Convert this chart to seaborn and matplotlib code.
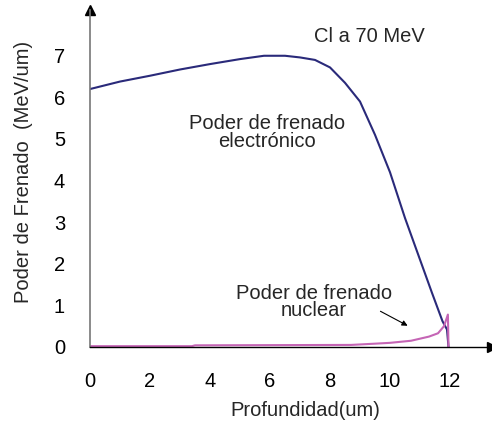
import matplotlib
matplotlib.use("Agg")
import matplotlib.pyplot as plt
import seaborn as sns
import numpy as np

# Data
elec_x = [0, 1, 2, 3, 4, 5, 5.8, 6.5, 7.0, 7.5, 8.0, 8.5, 9.0, 9.5, 10.0, 10.5, 11.0, 11.4, 11.75, 11.9, 11.95]
elec_y = [6.2, 6.38, 6.52, 6.67, 6.8, 6.92, 7.0, 7.0, 6.96, 6.9, 6.72, 6.35, 5.9, 5.1, 4.2, 3.1, 2.1, 1.3, 0.62, 0.42, 0.0]

nuc_x = [0, 3.4, 3.5, 8.7, 9.5, 10.0, 10.7, 11.3, 11.6, 11.8, 11.93, 11.95]
nuc_y = [0.02, 0.02, 0.04, 0.05, 0.08, 0.10, 0.15, 0.25, 0.33, 0.5, 0.78, 0.0]

x_ticks = [0, 2, 4, 6, 8, 10, 12]
y_ticks = [0, 1, 2, 3, 4, 5, 6, 7]

sns.set_style("white")
plt.rcParams['font.family'] = ['Liberation Sans', 'DejaVu Sans']

FS = 14.5

fig = plt.figure(figsize=(4.92, 4.25), dpi=100)
ax = fig.add_axes([90/492, 78/425, 402/492, 337/425])

sns.lineplot(x=elec_x, y=elec_y, ax=ax, color='#2a2a7a', lw=1.5, sort=False, estimator=None)
sns.lineplot(x=nuc_x, y=nuc_y, ax=ax, color='#c565b5', lw=1.5, sort=False, estimator=None)

ax.set_xlim(0, 13.4)
ax.set_ylim(0, 8.1)
ax.set_xticks(x_ticks)
ax.set_yticks(y_ticks)
ax.tick_params(axis='both', labelsize=FS, direction='out', length=6, width=1, pad=12)
ax.tick_params(axis='y', colors='#555555', labelcolor='black', length=7, pad=11)
ax.tick_params(axis='x', colors='black', labelcolor='black')

for s in ['top', 'right']:
    ax.spines[s].set_visible(False)
ax.spines['left'].set_color('#777777')
ax.spines['left'].set_linewidth(1.2)
ax.spines['bottom'].set_color('black')
ax.spines['bottom'].set_linewidth(1.0)

# arrowheads at the ends of the axes
ax.plot(1, 0, marker='>', color='black', ms=7, transform=ax.transAxes, clip_on=False)
ax.plot(0, 1, marker='^', color='black', ms=7, transform=ax.transAxes, clip_on=False)

ax.set_xlabel('Profundidad(um)', fontsize=FS)
ax.set_ylabel('Poder de Frenado  (MeV/um)', fontsize=FS)
ax.xaxis.label.set_va('center')
ax.yaxis.label.set_va('center')
ax.xaxis.set_label_coords((305-90)/402, -(411-347)/337)
ax.yaxis.set_label_coords(-(90-24)/402, (347-172)/337)

ax.text(9.3, 7.46, 'Cl a 70 MeV', fontsize=FS, ha='center', va='center')
ax.text(5.9, 5.15, 'Poder de frenado\nelectrónico', fontsize=FS, ha='center', va='center', linespacing=0.9)
ax.text(7.47, 1.08, 'Poder de frenado\nnuclear', fontsize=FS, ha='center', va='center', linespacing=0.9)
ax.annotate('', xy=(10.67, 0.48), xytext=(9.6, 0.89),
            arrowprops=dict(arrowstyle='-|>', color='black', lw=0.8, mutation_scale=8))

fig.savefig('out.png', dpi=100)
